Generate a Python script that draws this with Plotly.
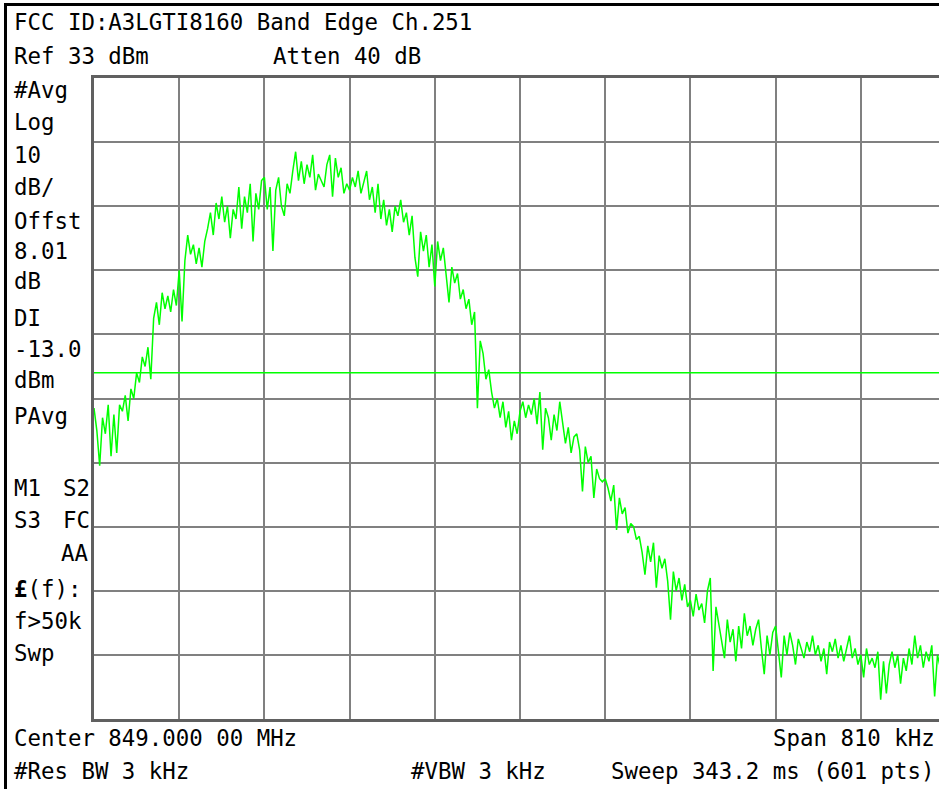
import numpy as np
import plotly.graph_objects as go

# ---- data ----
center_mhz = 849.0
span_mhz = 0.810
ref_level = 33.0
db_per_div = 10.0
display_line = -13.0

# trace levels (dBm), every second point of the 601-point sweep
levels = [
    -18.5, -22.0, -27.5, -20.0, -22.5, -18.0, -26.0, -19.5, -25.5, -18.0,
    -19.0, -16.5, -20.5, -15.5, -17.0, -13.0, -14.5, -10.5, -12.0, -9.0,
    -14.0, -4.5, -2.0, -5.5, -0.5, -3.0, -1.0, -3.5, 0.0, -2.5,
    3.0, -5.0, 4.5, 8.5, 5.5, 7.0, 4.0, 6.5, 3.5, 7.5,
    9.5, 12.0, 8.5, 13.5, 11.0, 14.5, 10.5, 13.0, 8.0, 12.5,
    11.0, 16.0, 9.5, 14.5, 12.0, 16.5, 7.5, 15.0, 12.5, 17.0,
    17.5, 12.5, 16.0, 6.0, 15.5, 17.5, 13.0, 11.5, 16.5, 15.0,
    18.5, 21.5, 17.0, 20.0, 16.5, 19.5, 17.5, 21.0, 15.5, 18.0,
    17.0, 16.0, 19.5, 21.0, 14.5, 20.5, 17.5, 19.0, 15.0, 16.5,
    15.5, 17.5, 16.0, 18.5, 15.0, 17.0, 18.5, 14.0, 16.0, 12.0,
    16.5, 11.0, 14.0, 10.0, 12.5, 9.0, 13.0, 11.5, 14.0, 10.5,
    12.0, 8.5, 11.5, 5.0, 2.0, 9.0, 6.0, 8.5, 3.5, 7.0,
    0.5, 7.5, 4.5, 6.5, 2.0, -2.0, 3.5, 1.0, 2.5, -1.5,
    0.0, -3.0, -1.5, -5.5, -3.5, -18.5, -8.0, -10.0, -14.0, -12.5,
    -16.0, -18.5, -17.0, -20.0, -17.5, -21.5, -19.0, -23.5, -20.5, -22.5,
    -19.0, -17.5, -20.0, -18.0, -19.5, -17.0, -21.0, -16.0, -25.0, -18.5,
    -20.0, -23.5, -19.5, -22.0, -17.5, -21.0, -24.0, -21.5, -25.5, -23.0,
    -22.5, -25.0, -31.5, -24.5, -27.0, -26.0, -32.5, -28.0, -29.5, -30.0,
    -29.5, -31.0, -33.0, -30.5, -37.5, -32.5, -35.0, -34.0, -38.0, -36.5,
    -37.0, -39.0, -38.5, -41.0, -44.5, -40.0, -42.5, -39.5, -46.5, -41.5,
    -43.5, -42.0, -45.5, -51.5, -44.0, -47.0, -45.0, -48.5, -46.0, -49.5,
    -48.5, -51.0, -47.5, -50.0, -49.0, -52.0, -47.0, -45.0, -59.5, -49.5,
    -52.0, -54.5, -57.5, -51.5, -55.0, -53.0, -58.0, -52.5, -56.0, -50.5,
    -54.0, -52.5, -55.5, -53.0, -51.5, -56.0, -60.0, -54.0, -57.0, -53.5,
    -52.5, -56.5, -60.5, -54.0, -57.0, -53.5, -55.5, -58.5, -54.5, -56.0,
    -57.5, -55.0, -56.5, -54.0, -57.0, -55.5, -58.0, -56.0, -60.0, -55.0,
    -56.5, -54.5, -57.5, -55.5, -58.0, -56.0, -54.0, -57.5, -56.0, -58.5,
    -57.0, -60.5, -56.0, -58.5, -57.5, -59.0, -56.5, -64.0, -58.0, -63.0,
    -58.5, -56.5, -59.0, -57.0, -61.5, -57.5, -59.5, -56.0, -58.5, -54.0,
    -57.5, -55.5, -59.0, -56.5, -58.0, -55.5, -63.5, -57.0, -59.0, -56.0, -58.0,
]

header_lines = ["FCC ID:A3LGTI8160 Band Edge Ch.251", "Ref 33 dBm", "Atten 40 dB"]
left_labels = ["#Avg", "Log", "10", "dB/", "Offst", "8.01", "dB", "DI", "-13.0", "dBm", "PAvg",
               "M1", "S2", "S3", "FC", "AA", "<b>£</b>(f):", "f>50k", "Swp"]
footer_lines = ["Center 849.000 00 MHz", "Span 810 kHz", "#Res BW 3 kHz", "#VBW 3 kHz",
                "Sweep 343.2 ms (601 pts)"]

# ---- layout helpers ----
W, H = 939, 789
L, T, B = 94, 78, 70
PW = W - L
PH = H - T - B
full_w = 852.0  # full graticule width in pixels (right edge cut off by the window)

start = center_mhz - span_mhz / 2
freqs = start + np.arange(len(levels)) * (span_mhz / 300)
x_end = start + span_mhz * PW / full_w


def px(x):
    return (x - L) / PW


def py(y):
    return (H - B - y) / PH


FONT = "DejaVu Sans Mono"
FS = 22.4

fig = go.Figure()
fig.add_trace(go.Scatter(
    x=freqs, y=levels, mode="lines",
    line=dict(color="#00FF00", width=1.5),
    hoverinfo="skip", showlegend=False,
))

fig.add_shape(type="line", xref="paper", yref="y", x0=0, x1=1, y0=display_line, y1=display_line,
              line=dict(color="#00FF00", width=1.5))

# outer black frame (top and left)
fig.add_shape(type="rect", xref="paper", yref="paper", x0=px(4), x1=px(7), y0=py(789), y1=py(3),
              fillcolor="black", line=dict(width=0), layer="above")
fig.add_shape(type="rect", xref="paper", yref="paper", x0=px(4), x1=px(939), y0=py(6), y1=py(3),
              fillcolor="black", line=dict(width=0), layer="above")

annos = []


def txt(s, x, yc, anchor="left"):
    annos.append(dict(text=s, x=px(x), y=py(yc), xref="paper", yref="paper",
                      xanchor=anchor, yanchor="middle", showarrow=False,
                      font=dict(family=FONT, size=FS, color="black")))


txt(header_lines[0], 12, 22)
txt(header_lines[1], 12, 56)
txt(header_lines[2], 271, 56)

ys = [90, 122, 155, 187, 221, 251, 281, 318, 349, 380, 416]
for s, yc in zip(left_labels[:11], ys):
    txt(s, 12, yc)
txt(left_labels[11], 12, 488)
txt(left_labels[12], 61, 488)
txt(left_labels[13], 12, 520)
txt(left_labels[14], 61, 520)
txt(left_labels[15], 59, 553)
txt(left_labels[16], 12, 589)
txt(left_labels[17], 12, 621)
txt(left_labels[18], 12, 653)

txt(footer_lines[0], 12, 738)
txt(footer_lines[1], 937, 738, "right")
txt(footer_lines[2], 12, 771)
txt(footer_lines[3], 409, 771)
txt(footer_lines[4], 937, 771, "right")

fig.update_layout(
    width=W, height=H,
    margin=dict(l=L, r=0, t=T, b=B, pad=0),
    paper_bgcolor="white", plot_bgcolor="white",
    annotations=annos,
    showlegend=False,
    xaxis=dict(range=[start, x_end], tick0=start, dtick=span_mhz / 10,
               showgrid=True, gridcolor="#808080", gridwidth=2,
               showline=True, linecolor="#606060", linewidth=3, mirror=True,
               showticklabels=False, ticks="", zeroline=False, fixedrange=True),
    yaxis=dict(range=[ref_level - 10 * db_per_div, ref_level], tick0=ref_level, dtick=db_per_div,
               showgrid=True, gridcolor="#808080", gridwidth=2,
               showline=True, linecolor="#606060", linewidth=3, mirror=False,
               showticklabels=False, ticks="", zeroline=False, fixedrange=True),
)

fig.write_html("out.html", config={"displayModeBar": False},
               post_script="document.body.style.margin='0';document.body.style.overflow='hidden';")
